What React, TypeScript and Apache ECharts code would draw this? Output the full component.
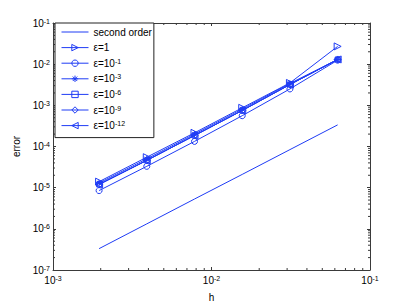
import React, { useEffect, useRef } from "react";
import * as echarts from "echarts";

const hValues = [1 / 512, 1 / 256, 1 / 128, 1 / 64, 1 / 32, 1 / 16];
const secondOrder = [3.3e-7, 1.32e-6, 5.3e-6, 2.1e-5, 8.4e-5, 3.35e-4];
const eps1 = [1.4e-5, 5.5e-5, 2.15e-4, 8.7e-4, 3.5e-3, 2.7e-2];
const eps1e1 = [8.5e-6, 3.3e-5, 1.33e-4, 5.6e-4, 2.5e-3, 1.25e-2];
const eps1e3 = [1.3e-5, 5.0e-5, 2.0e-4, 8.1e-4, 3.4e-3, 1.3e-2];
const eps1e6 = [1.2e-5, 4.6e-5, 1.85e-4, 7.5e-4, 3.2e-3, 1.3e-2];
const eps1e9 = [1.2e-5, 4.6e-5, 1.85e-4, 7.5e-4, 3.2e-3, 1.3e-2];
const eps1e12 = [1.2e-5, 4.6e-5, 1.85e-4, 7.5e-4, 3.2e-3, 1.3e-2];
const seriesNames = ["second order", "ε=1", "ε=10^-1", "ε=10^-3", "ε=10^-6", "ε=10^-9", "ε=10^-12"];
const xMinorTicks = [2e-3, 3e-3, 4e-3, 5e-3, 6e-3, 7e-3, 8e-3, 9e-3, 2e-2, 3e-2, 4e-2, 5e-2, 6e-2, 7e-2, 8e-2, 9e-2];
const yMinorTicks: number[] = [];
[1e-7, 1e-6, 1e-5, 1e-4, 1e-3, 1e-2].forEach((d) => {
  [2, 3, 4, 5, 6, 7, 8, 9].forEach((m) => yMinorTicks.push(+(d * m).toPrecision(3)));
});

const X_MIN = 1e-3, X_MAX = 1e-1, Y_MIN = 1e-7, Y_MAX = 1e-1;
const BLUE = "#1f3cf5";
const AXIS = "#3a3a3a";
const FONT = "Liberation Sans, Arial, Helvetica, sans-serif";
const ASTERISK = "path://M5,0L5,10M0,5L10,5M1.5,1.5L8.5,8.5M1.5,8.5L8.5,1.5";
const HOLLOW = "rgba(255,255,255,0)";

const supRich = {
  base: { fontSize: 10, fontFamily: FONT, color: "#000", lineHeight: 12, height: 12 },
  sup: { fontSize: 7, fontFamily: FONT, color: "#000", verticalAlign: "top", lineHeight: 8, height: 8 },
};

function toRich(name: string) {
  const m = name.match(/^(.*)\^(-?\d+)$/);
  if (!m) return `{base|${name}}`;
  return `{base|${m[1]}}{sup|${m[2]}}`;
}

function powLabel(v: number) {
  const e = Math.round(Math.log10(v));
  return `{base|10}{sup|${e}}`;
}

export default function App() {
  const ref = useRef<HTMLDivElement>(null);
  useEffect(() => {
    if (!ref.current) return;
    const chart = echarts.init(ref.current, undefined, { renderer: "svg" });
    const mk = (name: string, vals: number[], symbol: string, rotate = 0, size = 6) => ({
      name,
      type: "line",
      data: hValues.map((h, i) => [h, vals[i]]),
      symbol,
      symbolSize: size,
      symbolRotate: rotate,
      showSymbol: symbol !== "none",
      lineStyle: { color: BLUE, width: 1 },
      itemStyle: { color: HOLLOW, borderColor: BLUE, borderWidth: 1 },
      emphasis: { disabled: true },
      z: 3,
    });
    const axisCommon = {
      type: "log",
      logBase: 10,
      axisLine: { show: true, lineStyle: { color: AXIS, width: 1 } },
      axisTick: { show: true, inside: true, length: 3, lineStyle: { color: AXIS } },
      splitLine: { show: false },
    };
    chart.setOption({
      animation: false,
      backgroundColor: "#fff",
      grid: { left: 53, right: 39, top: 23, bottom: 34, containLabel: false },
      xAxis: [
        {
          ...axisCommon,
          min: X_MIN,
          max: X_MAX,
          interval: 1,
          name: "h",
          nameLocation: "middle",
          nameGap: 22,
          nameTextStyle: { fontSize: 10, fontFamily: FONT, color: "#000" },
          axisLabel: { formatter: powLabel, rich: supRich, margin: 4, showMinLabel: true, showMaxLabel: true },
        },
        { ...axisCommon, position: "top", min: X_MIN, max: X_MAX, interval: 1, axisLabel: { show: false } },
      ],
      yAxis: [
        {
          ...axisCommon,
          min: Y_MIN,
          max: Y_MAX,
          interval: 1,
          name: "error",
          nameLocation: "middle",
          nameGap: 30,
          nameTextStyle: { fontSize: 10, fontFamily: FONT, color: "#000" },
          axisLabel: { formatter: powLabel, rich: supRich, margin: 3, showMinLabel: true, showMaxLabel: true },
        },
        { ...axisCommon, position: "right", min: Y_MIN, max: Y_MAX, interval: 1, axisLabel: { show: false } },
      ],
      legend: {
        data: seriesNames.map((n, i) => ({
          name: n,
          itemStyle: i === 0 ? { opacity: 0 } : { color: HOLLOW, borderColor: BLUE, borderWidth: 1 },
          lineStyle: { color: BLUE, width: 1 },
        })),
        orient: "vertical",
        left: 55,
        top: 23,
        itemWidth: 27,
        itemHeight: 8,
        itemGap: 3.6,
        padding: [3, 2, 6, 6],
        borderColor: "#222",
        borderWidth: 1,
        backgroundColor: "#fff",
        lineStyle: { color: BLUE, width: 1 },
        itemStyle: { borderWidth: 1 },
        formatter: toRich,
        textStyle: { rich: supRich, fontSize: 10, fontFamily: FONT, color: "#000" },
        selectedMode: false,
      },
      series: [
        mk("second order", secondOrder, "none"),
        mk("ε=1", eps1, "triangle", -90, 7),
        mk("ε=10^-1", eps1e1, "circle", 0, 6),
        mk("ε=10^-3", eps1e3, ASTERISK, 0, 6),
        mk("ε=10^-6", eps1e6, "rect", 0, 5),
        mk("ε=10^-9", eps1e9, "diamond", 0, 7),
        mk("ε=10^-12", eps1e12, "triangle", 90, 7),
        {
          type: "custom",
          data: xMinorTicks.map((v) => [v, Y_MIN]),
          clip: false,
          silent: true,
          renderItem: (params: any, api: any) => {
            const v = api.value(0);
            const b = api.coord([v, Y_MIN]);
            const t = api.coord([v, Y_MAX]);
            return {
              type: "group",
              children: [
                { type: "line", shape: { x1: b[0], y1: b[1], x2: b[0], y2: b[1] - 2 }, style: { stroke: AXIS, lineWidth: 1 } },
                { type: "line", shape: { x1: t[0], y1: t[1], x2: t[0], y2: t[1] + 2 }, style: { stroke: AXIS, lineWidth: 1 } },
              ],
            };
          },
        },
        {
          type: "custom",
          data: yMinorTicks.map((v) => [X_MIN, v]),
          clip: false,
          silent: true,
          renderItem: (params: any, api: any) => {
            const v = api.value(1);
            const l = api.coord([X_MIN, v]);
            const r = api.coord([X_MAX, v]);
            return {
              type: "group",
              children: [
                { type: "line", shape: { x1: l[0], y1: l[1], x2: l[0] + 2, y2: l[1] }, style: { stroke: AXIS, lineWidth: 1 } },
                { type: "line", shape: { x1: r[0], y1: r[1], x2: r[0] - 2, y2: r[1] }, style: { stroke: AXIS, lineWidth: 1 } },
              ],
            };
          },
        },
      ],
    });
    return () => chart.dispose();
  }, []);
  return <div ref={ref} style={{ width: 409, height: 307, position: "absolute", left: 0, top: 0 }} />;
}
